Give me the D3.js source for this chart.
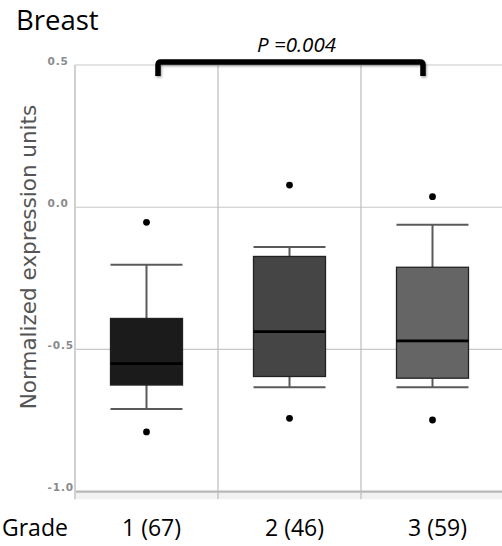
<!DOCTYPE html>
<html>
<head>
<meta charset="utf-8">
<script src="https://cdn.jsdelivr.net/npm/d3@7"></script>
<style>
  html, body { margin: 0; padding: 0; background: #fff; }
  svg { display: block; }
</style>
</head>
<body>
<svg id="chart" width="502" height="546"></svg>
<script>
// ---- data ----
const grades = ["1 (67)", "2 (46)", "3 (59)"];
const whiskerHigh = [-0.202, -0.140, -0.062];
const q3Values = [-0.391, -0.173, -0.211];
const medians = [-0.550, -0.437, -0.470];
const q1Values = [-0.625, -0.595, -0.601];
const whiskerLow = [-0.709, -0.633, -0.633];
const outlierHigh = [-0.053, 0.078, 0.037];
const outlierLow = [-0.790, -0.742, -0.748];
const boxColors = ["#1b1b1b", "#454545", "#656565"];
const yTicks = [0.5, 0.0, -0.5, -1.0];
const pLabel = "P =0.004";
const title = "Breast";
const yTitle = "Normalized expression units";
const xTitle = "Grade";

(function () {
const svg = d3.select("#chart");
const pLeft = 75, pRight = 504, pTop = 65, pBottom = 491.7;

const x = d3.scaleBand().domain(grades).range([pLeft, pRight]).padding(0);
const y = d3.scaleLinear().domain([-1, 0.5]).range([pBottom, pTop]);

const defs = svg.append("defs");
const f = defs.append("filter").attr("id", "shadow").attr("x", "-10%").attr("y", "-50%").attr("width", "120%").attr("height", "200%");
f.append("feDropShadow").attr("dx", 1).attr("dy", 1.5).attr("stdDeviation", 1.2).attr("flood-color", "#000").attr("flood-opacity", 0.35);

// bottom band
svg.append("rect").attr("x", pLeft).attr("y", pBottom).attr("width", pRight - pLeft).attr("height", 7.5).attr("fill", "#f2f2f2");

// horizontal gridlines
svg.append("g").selectAll("line").data(yTicks).join("line")
  .attr("x1", pLeft).attr("x2", pRight)
  .attr("y1", d => y(d)).attr("y2", d => y(d))
  .attr("stroke", d => d === -1 ? "#b8b8b8" : "#c8c8c8")
  .attr("stroke-width", d => d === -1 ? 2.2 : 1.2);

// vertical gridlines (left axis + band boundaries)
const vx = [pLeft].concat(grades.slice(1).map(g => x(g)));
svg.append("g").selectAll("line").data(vx).join("line")
  .attr("x1", d => d).attr("x2", d => d)
  .attr("y1", pTop).attr("y2", pBottom + 7.5)
  .attr("stroke", (d, i) => i === 0 ? "#d0d0d0" : "#bdbdbd")
  .attr("stroke-width", (d, i) => i === 0 ? 2 : 1.2);

// y tick labels
svg.append("g").selectAll("text").data(yTicks).join("text")
  .attr("x", 47.5).attr("y", d => y(d) - 3.5)
  .attr("dominant-baseline", "middle")
  .attr("font-family", "DejaVu Sans").attr("font-weight", "bold")
  .attr("font-size", 10.5).attr("letter-spacing", 0.9)
  .attr("fill", "#8a8a8a")
  .text(d => d3.format(".1f")(d).replace("\u2212", "-"));

// boxes
const bw = 72;
const g = svg.append("g").selectAll("g").data(grades).join("g")
  .attr("transform", d => `translate(${x(d) + x.bandwidth() / 2},0)`);

// whiskers
g.append("line").attr("x1", 0).attr("x2", 0)
  .attr("y1", (d, i) => y(whiskerHigh[i])).attr("y2", (d, i) => y(q3Values[i]))
  .attr("stroke", "#5a5a5a").attr("stroke-width", 2);
g.append("line").attr("x1", 0).attr("x2", 0)
  .attr("y1", (d, i) => y(q1Values[i])).attr("y2", (d, i) => y(whiskerLow[i]))
  .attr("stroke", "#5a5a5a").attr("stroke-width", 2);
g.append("line").attr("x1", -bw / 2).attr("x2", bw / 2)
  .attr("y1", (d, i) => y(whiskerHigh[i])).attr("y2", (d, i) => y(whiskerHigh[i]))
  .attr("stroke", "#5a5a5a").attr("stroke-width", 2);
g.append("line").attr("x1", -bw / 2).attr("x2", bw / 2)
  .attr("y1", (d, i) => y(whiskerLow[i])).attr("y2", (d, i) => y(whiskerLow[i]))
  .attr("stroke", "#5a5a5a").attr("stroke-width", 2);

// box
g.append("rect").attr("x", -bw / 2).attr("width", bw)
  .attr("y", (d, i) => y(q3Values[i]))
  .attr("height", (d, i) => y(q1Values[i]) - y(q3Values[i]))
  .attr("fill", (d, i) => boxColors[i])
  .attr("stroke", "#222").attr("stroke-width", 1.3);

// median
g.append("line").attr("x1", -bw / 2).attr("x2", bw / 2)
  .attr("y1", (d, i) => y(medians[i])).attr("y2", (d, i) => y(medians[i]))
  .attr("stroke", "#000").attr("stroke-width", 2.8);

// outliers
g.append("circle").attr("cx", 0).attr("cy", (d, i) => y(outlierHigh[i])).attr("r", 3.4).attr("fill", "#000");
g.append("circle").attr("cx", 0).attr("cy", (d, i) => y(outlierLow[i])).attr("r", 3.4).attr("fill", "#000");

// bracket
const bx1 = x(grades[0]) + x.bandwidth() / 2 + 11.5;
const bx2 = x(grades[2]) + x.bandwidth() / 2 - 9.5;
const by = 62, byEnd = 76, rr = 3;
const bp = d3.path();
bp.moveTo(bx1, byEnd);
bp.lineTo(bx1, by + rr);
bp.quadraticCurveTo(bx1, by, bx1 + rr, by);
bp.lineTo(bx2 - rr, by);
bp.quadraticCurveTo(bx2, by, bx2, by + rr);
bp.lineTo(bx2, byEnd);
svg.append("path").attr("d", bp.toString())
  .attr("fill", "none").attr("stroke", "#000").attr("stroke-width", 5.5)
  .attr("filter", "url(#shadow)");

// p-value
svg.append("text").attr("x", 257).attr("y", 51.5)
  .attr("font-family", "Open Sans").attr("font-style", "italic")
  .attr("font-size", 20.5).attr("fill", "#000").text(pLabel);

// title
svg.append("text").attr("x", 16).attr("y", 30)
  .attr("font-family", "Open Sans").attr("font-size", 27.5).attr("fill", "#000").text(title);

// y title
svg.append("text").attr("transform", "translate(36,257) rotate(-90)")
  .attr("text-anchor", "middle")
  .attr("font-family", "DejaVu Sans").attr("font-size", 21.5)
  .attr("fill", "#555").text(yTitle);

// x labels
svg.append("text").attr("x", 2).attr("y", 536)
  .attr("font-family", "Open Sans").attr("font-size", 23).attr("fill", "#000").text(xTitle);
svg.append("g").selectAll("text").data(grades).join("text")
  .attr("x", d => x(d) + x.bandwidth() / 2 + 5).attr("y", 536)
  .attr("text-anchor", "middle")
  .attr("font-family", "Open Sans").attr("font-size", 23).attr("fill", "#000")
  .text(d => d);
})();
</script>
</body>
</html>
